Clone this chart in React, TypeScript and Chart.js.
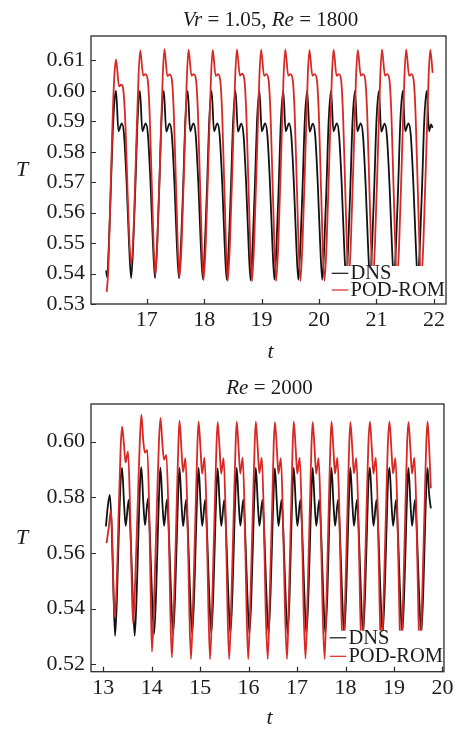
import React, { useEffect, useRef } from 'react';
import { Chart, registerables } from 'chart.js';

Chart.register(...registerables);

const SERIF = '"Liberation Serif", "Times New Roman", serif';
const FONT_SIZE = 21;
const TICK_SIZE = 22;
const RED = 'rgb(216, 40, 36)';
const BLACK = '#121212';
const INK = '#1c1c1c';

// ---------------- Top panel: Vr = 1.05, Re = 1800 ----------------
const topXTicks = [17, 18, 19, 20, 21, 22];
const topYTicks = [0.53, 0.54, 0.55, 0.56, 0.57, 0.58, 0.59, 0.6, 0.61];

const topDnsTime = [
  16.295, 16.310, 16.340, 16.375, 16.410, 16.440,
  16.466, 16.508, 16.565, 16.605, 16.652, 16.692, 16.728, 16.766, 16.805, 16.840,
  16.882, 16.924, 16.981, 17.021, 17.068, 17.108, 17.144, 17.182, 17.221, 17.256,
  17.298, 17.340, 17.397, 17.437, 17.484, 17.524, 17.560, 17.598, 17.637, 17.672,
  17.714, 17.756, 17.813, 17.853, 17.900, 17.940, 17.976, 18.014, 18.053, 18.088,
  18.130, 18.172, 18.229, 18.269, 18.316, 18.356, 18.392, 18.430, 18.469, 18.504,
  18.546, 18.588, 18.645, 18.685, 18.732, 18.772, 18.808, 18.846, 18.885, 18.920,
  18.961, 19.003, 19.060, 19.100, 19.147, 19.187, 19.223, 19.261, 19.300, 19.335,
  19.377, 19.419, 19.476, 19.516, 19.563, 19.603, 19.639, 19.677, 19.716, 19.751,
  19.793, 19.835, 19.892, 19.932, 19.979, 20.019, 20.055, 20.093, 20.132, 20.167,
  20.209, 20.251, 20.308, 20.348, 20.395, 20.435, 20.471, 20.509, 20.548, 20.583,
  20.625, 20.667, 20.724, 20.764, 20.811, 20.851, 20.887, 20.925, 20.964, 20.999,
  21.041, 21.083, 21.140, 21.180, 21.227, 21.267, 21.303, 21.341, 21.380, 21.415,
  21.457, 21.499, 21.556, 21.596, 21.643, 21.683, 21.719, 21.757, 21.796, 21.831,
  21.873, 21.915, 21.950, 21.977,
];
const topDnsT = [
  0.5410, 0.5388, 0.5490, 0.5680, 0.5870, 0.5970,
  0.6000, 0.5867, 0.5893, 0.5856, 0.5690, 0.5500, 0.5385, 0.5500, 0.5700, 0.5900,
  0.6000, 0.5867, 0.5893, 0.5856, 0.5690, 0.5500, 0.5385, 0.5500, 0.5700, 0.5900,
  0.6000, 0.5866, 0.5892, 0.5856, 0.5690, 0.5500, 0.5385, 0.5500, 0.5700, 0.5900,
  0.6000, 0.5867, 0.5893, 0.5855, 0.5690, 0.5500, 0.5382, 0.5500, 0.5700, 0.5900,
  0.6000, 0.5867, 0.5893, 0.5856, 0.5690, 0.5500, 0.5380, 0.5500, 0.5700, 0.5900,
  0.6000, 0.5866, 0.5892, 0.5856, 0.5690, 0.5500, 0.5378, 0.5500, 0.5700, 0.5900,
  0.6000, 0.5867, 0.5893, 0.5856, 0.5690, 0.5500, 0.5380, 0.5500, 0.5700, 0.5900,
  0.6000, 0.5867, 0.5893, 0.5855, 0.5690, 0.5500, 0.5380, 0.5500, 0.5700, 0.5900,
  0.6000, 0.5866, 0.5892, 0.5856, 0.5690, 0.5500, 0.5380, 0.5500, 0.5700, 0.5900,
  0.6000, 0.5867, 0.5893, 0.5856, 0.5690, 0.5500, 0.5380, 0.5500, 0.5700, 0.5900,
  0.6000, 0.5867, 0.5893, 0.5856, 0.5690, 0.5500, 0.5380, 0.5500, 0.5700, 0.5900,
  0.6000, 0.5866, 0.5892, 0.5855, 0.5690, 0.5500, 0.5380, 0.5500, 0.5700, 0.5900,
  0.6000, 0.5867, 0.5893, 0.5856, 0.5690, 0.5500, 0.5380, 0.5500, 0.5700, 0.5900,
  0.6000, 0.5867, 0.5890, 0.5878,
];

const topRomTime = [
  16.304, 16.330, 16.370, 16.410, 16.440,
  16.466, 16.518, 16.558, 16.597, 16.631, 16.670, 16.727, 16.766, 16.823, 16.858,
  16.887, 16.939, 16.979, 17.018, 17.052, 17.091, 17.148, 17.187, 17.244, 17.279,
  17.308, 17.360, 17.400, 17.439, 17.473, 17.512, 17.569, 17.608, 17.665, 17.700,
  17.728, 17.780, 17.820, 17.859, 17.893, 17.932, 17.989, 18.028, 18.085, 18.120,
  18.149, 18.201, 18.241, 18.280, 18.314, 18.353, 18.410, 18.449, 18.506, 18.541,
  18.570, 18.622, 18.662, 18.701, 18.735, 18.774, 18.831, 18.870, 18.927, 18.962,
  18.991, 19.043, 19.083, 19.122, 19.156, 19.195, 19.252, 19.291, 19.348, 19.383,
  19.412, 19.464, 19.504, 19.543, 19.577, 19.616, 19.673, 19.712, 19.769, 19.804,
  19.832, 19.884, 19.924, 19.963, 19.997, 20.036, 20.093, 20.132, 20.189, 20.224,
  20.253, 20.305, 20.345, 20.384, 20.418, 20.457, 20.514, 20.553, 20.610, 20.645,
  20.674, 20.726, 20.766, 20.805, 20.839, 20.878, 20.935, 20.974, 21.031, 21.066,
  21.095, 21.147, 21.187, 21.226, 21.260, 21.299, 21.356, 21.395, 21.452, 21.487,
  21.516, 21.568, 21.608, 21.647, 21.681, 21.720, 21.777, 21.816, 21.873, 21.908,
  21.936, 21.977,
];
const topRomT = [
  0.5340, 0.5410, 0.5660, 0.5930, 0.6060,
  0.6103, 0.6015, 0.6020, 0.5995, 0.5880, 0.5650, 0.5432, 0.5520, 0.5850, 0.6050,
  0.6133, 0.6050, 0.6055, 0.6035, 0.5920, 0.5675, 0.5395, 0.5510, 0.5840, 0.6050,
  0.6137, 0.6048, 0.6054, 0.6035, 0.5920, 0.5675, 0.5385, 0.5500, 0.5840, 0.6050,
  0.6135, 0.6050, 0.6055, 0.6035, 0.5920, 0.5670, 0.5378, 0.5500, 0.5840, 0.6050,
  0.6134, 0.6049, 0.6055, 0.6034, 0.5920, 0.5670, 0.5375, 0.5500, 0.5840, 0.6050,
  0.6136, 0.6050, 0.6056, 0.6035, 0.5920, 0.5670, 0.5374, 0.5500, 0.5840, 0.6050,
  0.6135, 0.6049, 0.6055, 0.6035, 0.5920, 0.5670, 0.5375, 0.5500, 0.5840, 0.6050,
  0.6136, 0.6050, 0.6055, 0.6034, 0.5920, 0.5670, 0.5375, 0.5500, 0.5840, 0.6050,
  0.6134, 0.6050, 0.6055, 0.6035, 0.5920, 0.5670, 0.5376, 0.5500, 0.5840, 0.6050,
  0.6135, 0.6049, 0.6055, 0.6035, 0.5920, 0.5670, 0.5376, 0.5500, 0.5840, 0.6050,
  0.6134, 0.6050, 0.6055, 0.6035, 0.5920, 0.5670, 0.5375, 0.5500, 0.5840, 0.6050,
  0.6136, 0.6050, 0.6055, 0.6035, 0.5920, 0.5670, 0.5375, 0.5500, 0.5840, 0.6050,
  0.6136, 0.6049, 0.6055, 0.6035, 0.5920, 0.5670, 0.5375, 0.5500, 0.5840, 0.6050,
  0.6135, 0.6059,
];

// ---------------- Bottom panel: Re = 2000 ----------------
const bottomXTicks = [13, 14, 15, 16, 17, 18, 19, 20];
const bottomYTicks = [0.52, 0.54, 0.56, 0.58, 0.6];

const bottomDnsTime = [
  13.055, 13.100, 13.137, 13.175, 13.210, 13.245, 13.285, 13.330, 13.360,
  13.389, 13.429, 13.464, 13.524, 13.564, 13.604, 13.650, 13.692, 13.732, 13.762,
  13.787, 13.827, 13.862, 13.922, 13.962, 14.002, 14.049, 14.092, 14.132, 14.162,
  14.181, 14.221, 14.256, 14.316, 14.356, 14.396, 14.443, 14.486, 14.526, 14.556,
  14.574, 14.614, 14.649, 14.709, 14.749, 14.789, 14.836, 14.879, 14.919, 14.949,
  14.968, 15.008, 15.043, 15.103, 15.143, 15.183, 15.230, 15.273, 15.313, 15.343,
  15.362, 15.402, 15.437, 15.497, 15.537, 15.577, 15.624, 15.667, 15.707, 15.737,
  15.755, 15.795, 15.830, 15.890, 15.930, 15.970, 16.017, 16.060, 16.100, 16.130,
  16.149, 16.189, 16.224, 16.284, 16.324, 16.364, 16.411, 16.454, 16.494, 16.524,
  16.543, 16.583, 16.618, 16.678, 16.718, 16.758, 16.805, 16.848, 16.885, 16.912,
  16.932, 16.972, 17.007, 17.067, 17.107, 17.147, 17.194, 17.237, 17.277, 17.305,
  17.322, 17.362, 17.397, 17.457, 17.497, 17.537, 17.584, 17.627, 17.665, 17.692,
  17.710, 17.750, 17.785, 17.845, 17.885, 17.925, 17.972, 18.015, 18.055, 18.083,
  18.100, 18.140, 18.175, 18.235, 18.275, 18.315, 18.362, 18.405, 18.445, 18.475,
  18.503, 18.543, 18.578, 18.638, 18.678, 18.718, 18.765, 18.808, 18.848, 18.878,
  18.907, 18.947, 18.982, 19.042, 19.082, 19.122, 19.169, 19.212, 19.252, 19.280,
  19.299, 19.339, 19.374, 19.434, 19.474, 19.514, 19.561, 19.604, 19.644, 19.672,
  19.693, 19.725, 19.761,
];
const bottomDnsT = [
  0.5695, 0.5775, 0.5808, 0.5690, 0.5470, 0.5302, 0.5450, 0.5720, 0.5860,
  0.5905, 0.5780, 0.5697, 0.5790, 0.5670, 0.5470, 0.5302, 0.5460, 0.5700, 0.5860,
  0.5908, 0.5782, 0.5700, 0.5795, 0.5670, 0.5470, 0.5308, 0.5460, 0.5700, 0.5860,
  0.5906, 0.5780, 0.5697, 0.5792, 0.5670, 0.5470, 0.5310, 0.5460, 0.5700, 0.5860,
  0.5905, 0.5780, 0.5696, 0.5790, 0.5670, 0.5470, 0.5310, 0.5460, 0.5700, 0.5860,
  0.5905, 0.5780, 0.5697, 0.5790, 0.5670, 0.5470, 0.5310, 0.5460, 0.5700, 0.5860,
  0.5904, 0.5780, 0.5697, 0.5790, 0.5670, 0.5470, 0.5310, 0.5460, 0.5700, 0.5860,
  0.5905, 0.5780, 0.5698, 0.5791, 0.5670, 0.5470, 0.5310, 0.5460, 0.5700, 0.5860,
  0.5905, 0.5780, 0.5697, 0.5790, 0.5670, 0.5470, 0.5310, 0.5460, 0.5700, 0.5860,
  0.5904, 0.5780, 0.5697, 0.5790, 0.5670, 0.5470, 0.5310, 0.5460, 0.5710, 0.5860,
  0.5905, 0.5780, 0.5697, 0.5790, 0.5670, 0.5470, 0.5310, 0.5460, 0.5705, 0.5860,
  0.5905, 0.5780, 0.5697, 0.5790, 0.5670, 0.5470, 0.5310, 0.5460, 0.5710, 0.5860,
  0.5905, 0.5780, 0.5697, 0.5790, 0.5670, 0.5470, 0.5310, 0.5460, 0.5705, 0.5860,
  0.5905, 0.5780, 0.5697, 0.5790, 0.5670, 0.5470, 0.5310, 0.5460, 0.5700, 0.5860,
  0.5906, 0.5780, 0.5697, 0.5790, 0.5670, 0.5470, 0.5310, 0.5460, 0.5700, 0.5860,
  0.5905, 0.5780, 0.5697, 0.5790, 0.5670, 0.5470, 0.5310, 0.5460, 0.5705, 0.5860,
  0.5905, 0.5780, 0.5697, 0.5790, 0.5670, 0.5470, 0.5310, 0.5460, 0.5710, 0.5860,
  0.5905, 0.5810, 0.5760,
];

const bottomRomTime = [
  13.070, 13.120, 13.160, 13.195, 13.230, 13.270, 13.320, 13.360,
  13.389, 13.430, 13.461, 13.512, 13.551, 13.585, 13.615, 13.660, 13.715, 13.755,
  13.787, 13.828, 13.859, 13.910, 13.949, 13.980, 14.006, 14.050, 14.110, 14.150,
  14.181, 14.222, 14.253, 14.304, 14.343, 14.383, 14.416, 14.466, 14.517, 14.551,
  14.574, 14.615, 14.646, 14.697, 14.736, 14.776, 14.811, 14.859, 14.910, 14.944,
  14.968, 15.009, 15.040, 15.091, 15.130, 15.170, 15.205, 15.253, 15.304, 15.338,
  15.362, 15.403, 15.434, 15.485, 15.524, 15.564, 15.599, 15.647, 15.698, 15.732,
  15.755, 15.796, 15.827, 15.878, 15.917, 15.957, 15.992, 16.040, 16.091, 16.125,
  16.149, 16.190, 16.221, 16.272, 16.311, 16.351, 16.395, 16.437, 16.488, 16.518,
  16.543, 16.584, 16.615, 16.666, 16.705, 16.750, 16.793, 16.833, 16.880, 16.910,
  16.932, 16.973, 17.004, 17.055, 17.094, 17.134, 17.174, 17.218, 17.266, 17.298,
  17.322, 17.363, 17.394, 17.445, 17.484, 17.526, 17.568, 17.610, 17.656, 17.688,
  17.710, 17.751, 17.782, 17.833, 17.872, 17.913, 17.950, 17.995, 18.043, 18.076,
  18.100, 18.141, 18.172, 18.223, 18.262, 18.302, 18.339, 18.386, 18.437, 18.471,
  18.503, 18.544, 18.575, 18.626, 18.665, 18.705, 18.740, 18.788, 18.839, 18.873,
  18.907, 18.948, 18.979, 19.030, 19.069, 19.109, 19.144, 19.190, 19.238, 19.270,
  19.299, 19.340, 19.371, 19.422, 19.461, 19.501, 19.536, 19.583, 19.633, 19.665,
  19.693, 19.725, 19.761,
];
const bottomRomT = [
  0.5635, 0.5700, 0.5755, 0.5600, 0.5370, 0.5450, 0.5750, 0.5980,
  0.6054, 0.5985, 0.5925, 0.5965, 0.5780, 0.5520, 0.5347, 0.5500, 0.5790, 0.6000,
  0.6097, 0.6000, 0.5960, 0.5970, 0.5750, 0.5450, 0.5245, 0.5430, 0.5780, 0.6000,
  0.6085, 0.5990, 0.5935, 0.5952, 0.5760, 0.5410, 0.5224, 0.5450, 0.5780, 0.5990,
  0.6075, 0.5970, 0.5890, 0.5940, 0.5750, 0.5400, 0.5218, 0.5450, 0.5780, 0.5990,
  0.6072, 0.5970, 0.5885, 0.5942, 0.5750, 0.5400, 0.5218, 0.5450, 0.5780, 0.5990,
  0.6070, 0.5970, 0.5885, 0.5940, 0.5750, 0.5400, 0.5218, 0.5450, 0.5780, 0.5990,
  0.6072, 0.5968, 0.5885, 0.5942, 0.5750, 0.5400, 0.5218, 0.5450, 0.5780, 0.5990,
  0.6072, 0.5970, 0.5886, 0.5942, 0.5750, 0.5400, 0.5218, 0.5450, 0.5780, 0.5990,
  0.6070, 0.5970, 0.5885, 0.5940, 0.5750, 0.5400, 0.5218, 0.5450, 0.5780, 0.5990,
  0.6072, 0.5970, 0.5885, 0.5942, 0.5750, 0.5400, 0.5220, 0.5450, 0.5780, 0.5990,
  0.6070, 0.5970, 0.5885, 0.5940, 0.5750, 0.5400, 0.5218, 0.5450, 0.5780, 0.5990,
  0.6072, 0.5970, 0.5885, 0.5942, 0.5750, 0.5400, 0.5218, 0.5450, 0.5780, 0.5990,
  0.6070, 0.5970, 0.5886, 0.5940, 0.5750, 0.5400, 0.5218, 0.5450, 0.5780, 0.5990,
  0.6072, 0.5970, 0.5885, 0.5942, 0.5750, 0.5400, 0.5218, 0.5450, 0.5780, 0.5990,
  0.6072, 0.5968, 0.5885, 0.5940, 0.5750, 0.5400, 0.5218, 0.5450, 0.5780, 0.5990,
  0.6070, 0.5970, 0.5885, 0.5942, 0.5750, 0.5400, 0.5218, 0.5450, 0.5780, 0.5990,
  0.6072, 0.5980, 0.5832,
];

const legendLabels = ['DNS', 'POD-ROM'];

type Seg = { text: string; italic: boolean };

interface PanelSpec {
  width: number;
  height: number;
  padTop: number;
  padRight: number;
  yAxisWidth: number;
  xAxisHeight: number;
  xMin: number;
  xMax: number;
  yMin: number;
  yMax: number;
  xTicks: number[];
  yTicks: number[];
  dnsTime: number[];
  dnsT: number[];
  romTime: number[];
  romT: number[];
  title: Seg[];
  legendRow1: number;
  legendRow2: number;
  legendBoxTop: number;
  xLabelOffset: number;
}

const topSpec: PanelSpec = {
  width: 457,
  height: 364,
  padTop: 36,
  padRight: 11,
  yAxisWidth: 91,
  xAxisHeight: 60,
  xMin: 16.03,
  xMax: 22.21,
  yMin: 0.53,
  yMax: 0.618,
  xTicks: topXTicks,
  yTicks: topYTicks,
  dnsTime: topDnsTime,
  dnsT: topDnsT,
  romTime: topRomTime,
  romT: topRomT,
  title: [
    { text: 'Vr', italic: true },
    { text: ' = 1.05, ', italic: false },
    { text: 'Re', italic: true },
    { text: ' = 1800', italic: false },
  ],
  legendRow1: 30.7,
  legendRow2: 14,
  legendBoxTop: 38,
  xLabelOffset: 48.5,
};

const bottomSpec: PanelSpec = {
  width: 457,
  height: 365,
  padTop: 40,
  padRight: 10.5,
  yAxisWidth: 91,
  xAxisHeight: 57.3,
  xMin: 12.748,
  xMax: 20.031,
  yMin: 0.5173,
  yMax: 0.6135,
  xTicks: bottomXTicks,
  yTicks: bottomYTicks,
  dnsTime: bottomDnsTime,
  dnsT: bottomDnsT,
  romTime: bottomRomTime,
  romT: bottomRomT,
  title: [
    { text: 'Re', italic: true },
    { text: ' = 2000', italic: false },
  ],
  legendRow1: 33.9,
  legendRow2: 15.4,
  legendBoxTop: 41,
  xLabelOffset: 46.5,
};

const fontStr = (italic: boolean, size = FONT_SIZE) =>
  `${italic ? 'italic ' : ''}${size}px ${SERIF}`;

const decorPlugin = {
  id: 'decor',
  afterDatasetsDraw(chart: any, _args: any, opts: any) {
    const spec: PanelSpec = opts.spec;
    const { ctx, chartArea: a } = chart;
    ctx.save();
    const boxLeft = a.right - 115.5;
    const boxTop = a.bottom - spec.legendBoxTop;
    ctx.fillStyle = '#ffffff';
    ctx.fillRect(boxLeft, boxTop, a.right - boxLeft - 1, a.bottom - boxTop - 1);
    const rows = [spec.legendRow1, spec.legendRow2];
    const colors = [BLACK, RED];
    ctx.font = fontStr(false, 20.5);
    ctx.textBaseline = 'middle';
    ctx.textAlign = 'left';
    rows.forEach((off, i) => {
      const y = a.bottom - off;
      ctx.strokeStyle = colors[i];
      ctx.lineWidth = 1.2;
      ctx.beginPath();
      ctx.moveTo(a.right - 114.3, y);
      ctx.lineTo(a.right - 97.7, y);
      ctx.stroke();
      ctx.fillStyle = INK;
      ctx.fillText(legendLabels[i], a.right - 95.5, y + 0.5);
    });
    ctx.restore();
  },
  afterDraw(chart: any, _args: any, opts: any) {
    const spec: PanelSpec = opts.spec;
    const { ctx, chartArea: a } = chart;
    const xs = chart.scales.x;
    const ys = chart.scales.y;
    ctx.save();
    ctx.strokeStyle = '#2a2a2a';
    ctx.lineWidth = 1.3;
    ctx.strokeRect(a.left, a.top, a.right - a.left, a.bottom - a.top);
    ctx.lineWidth = 1.2;
    ctx.beginPath();
    spec.xTicks.forEach((v) => {
      const px = Math.round(xs.getPixelForValue(v)) + 0.5;
      ctx.moveTo(px, a.bottom);
      ctx.lineTo(px, a.bottom - 5);
    });
    spec.yTicks.forEach((v) => {
      const py = Math.round(ys.getPixelForValue(v)) + 0.5;
      ctx.moveTo(a.left, py);
      ctx.lineTo(a.left + 5, py);
    });
    ctx.stroke();
    ctx.fillStyle = INK;
    ctx.textBaseline = 'alphabetic';
    ctx.textAlign = 'left';
    let total = 0;
    const widths = spec.title.map((s) => {
      ctx.font = fontStr(s.italic);
      const w = ctx.measureText(s.text).width;
      total += w;
      return w;
    });
    let x = (a.left + a.right) / 2 + 2 - total / 2;
    spec.title.forEach((s, i) => {
      ctx.font = fontStr(s.italic);
      ctx.fillText(s.text, x, a.top - 10);
      x += widths[i];
    });
    ctx.font = fontStr(true, 22);
    ctx.textAlign = 'center';
    ctx.textBaseline = 'middle';
    ctx.fillText('T', 22, (a.top + a.bottom) / 2);
    ctx.fillText('t', (a.left + a.right) / 2 + 2, a.bottom + spec.xLabelOffset);
    ctx.restore();
  },
};

function buildConfig(spec: PanelSpec): any {
  const toPoints = (xs: number[], ys: number[]) => xs.map((x, i) => ({ x, y: ys[i] }));
  return {
    type: 'line',
    data: {
      datasets: [
        {
          label: legendLabels[0],
          data: toPoints(spec.dnsTime, spec.dnsT),
          borderColor: BLACK,
          borderWidth: 1.8,
          pointRadius: 0,
          fill: false,
          cubicInterpolationMode: 'monotone',
          order: 2,
        },
        {
          label: legendLabels[1],
          data: toPoints(spec.romTime, spec.romT),
          borderColor: RED,
          borderWidth: 1.8,
          pointRadius: 0,
          fill: false,
          cubicInterpolationMode: 'monotone',
          order: 1,
        },
      ],
    },
    options: {
      responsive: false,
      animation: false,
      devicePixelRatio: 1,
      events: [],
      layout: { padding: { left: 0, top: spec.padTop, right: spec.padRight, bottom: 0 } },
      plugins: {
        legend: { display: false },
        tooltip: { enabled: false },
        title: { display: false },
        decor: { spec },
      },
      scales: {
        x: {
          type: 'linear',
          min: spec.xMin,
          max: spec.xMax,
          afterBuildTicks: (s: any) => {
            s.ticks = spec.xTicks.map((v) => ({ value: v }));
          },
          afterFit: (s: any) => {
            s.height = spec.xAxisHeight;
          },
          grid: { display: false, drawTicks: false },
          border: { display: false },
          ticks: {
            font: { family: SERIF, size: TICK_SIZE },
            color: INK,
            padding: 3.5,
            maxRotation: 0,
            autoSkip: false,
            callback: (v: any) => String(v),
          },
        },
        y: {
          type: 'linear',
          min: spec.yMin,
          max: spec.yMax,
          afterBuildTicks: (s: any) => {
            s.ticks = spec.yTicks.map((v) => ({ value: v }));
          },
          afterFit: (s: any) => {
            s.width = spec.yAxisWidth;
          },
          grid: { display: false, drawTicks: false },
          border: { display: false },
          ticks: {
            font: { family: SERIF, size: TICK_SIZE },
            color: INK,
            padding: 6,
            autoSkip: false,
            callback: (v: any) => Number(v).toFixed(2),
          },
        },
      },
    },
    plugins: [decorPlugin],
  };
}

function Panel({ spec }: { spec: PanelSpec }) {
  const ref = useRef<HTMLCanvasElement>(null);
  useEffect(() => {
    if (!ref.current) return;
    const chart = new Chart(ref.current, buildConfig(spec));
    return () => chart.destroy();
  }, [spec]);
  return (
    <canvas
      ref={ref}
      width={spec.width}
      height={spec.height}
      style={{ display: 'block', width: spec.width, height: spec.height }}
    />
  );
}

export default function App() {
  return (
    <div
      style={{
        position: 'absolute',
        left: 0,
        top: 0,
        width: 457,
        height: 729,
        background: '#ffffff',
      }}
    >
      <Panel spec={topSpec} />
      <Panel spec={bottomSpec} />
    </div>
  );
}
